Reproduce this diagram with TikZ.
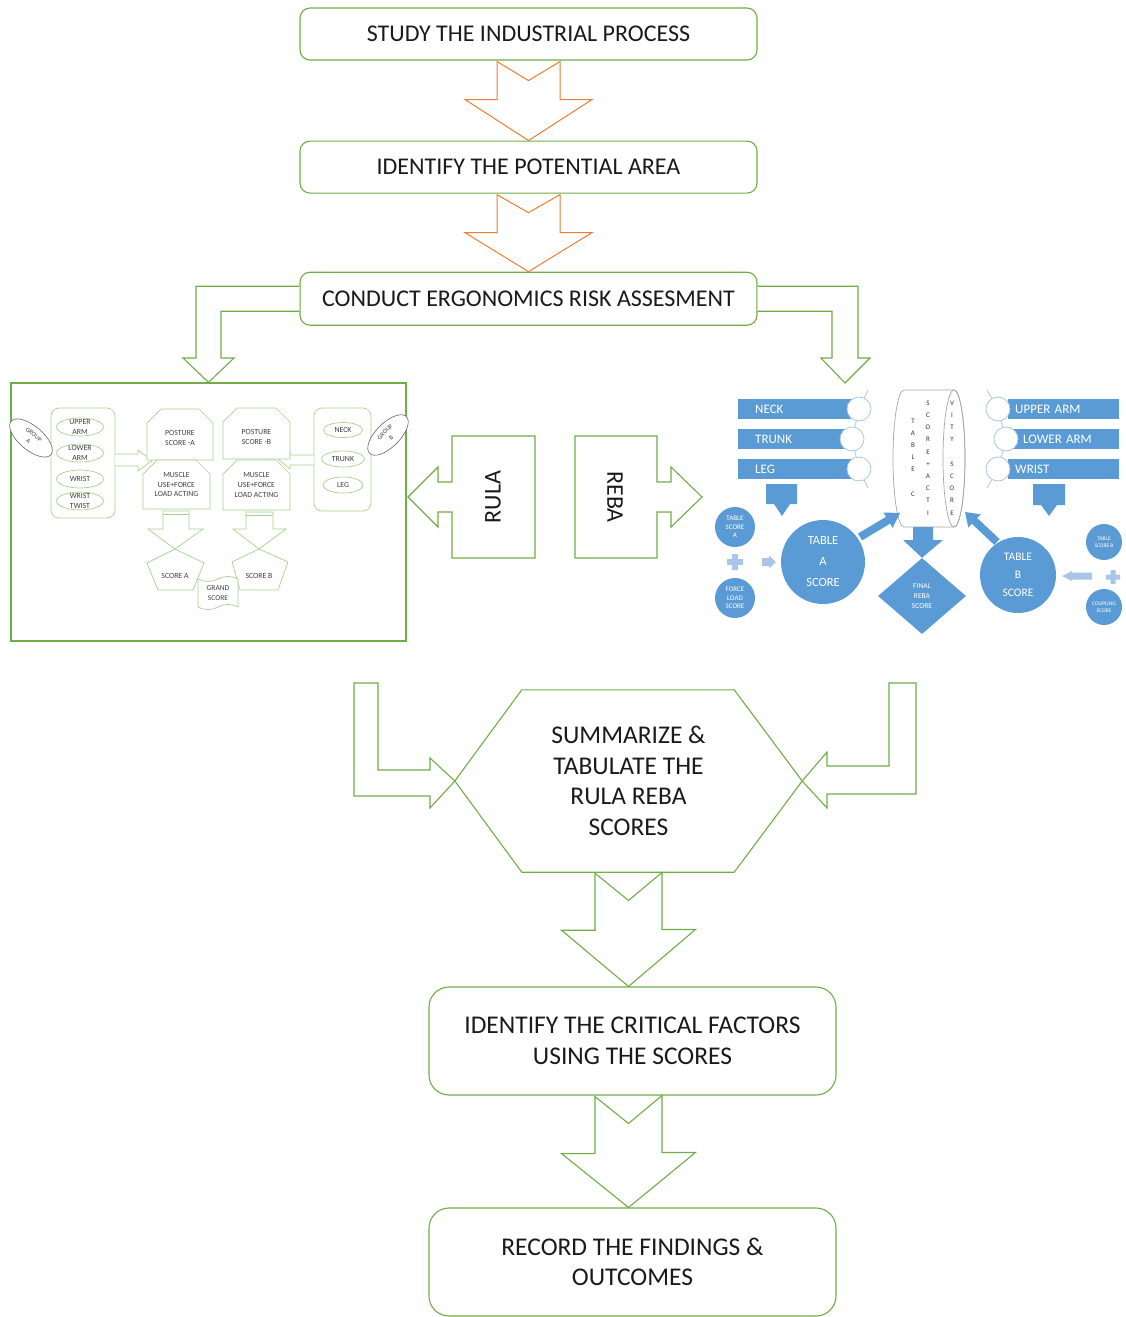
\documentclass[tikz,border=0pt]{standalone}
\usepackage{fontspec}
\setmainfont{Carlito}
\usetikzlibrary{positioning, arrows.meta, calc, shapes.geometric, shapes.misc, shapes.symbols, backgrounds}

\definecolor{stepgreen}{HTML}{70AD47}
\definecolor{palegreen}{HTML}{A9D18E}
\definecolor{floworange}{HTML}{ED7D31}
\definecolor{rebablue}{HTML}{5B9BD5}
\definecolor{lightblue}{HTML}{A9C6E8}
\definecolor{inkgray}{HTML}{1A1A1A}

\begin{document}
\begin{tikzpicture}[
    x=1pt, y=-1pt,
    stepbox/.style={draw=stepgreen, line width=1.1pt, rounded corners=10pt, fill=white, align=center, text=inkgray, font=\fontsize{24}{30}\selectfont},
    bigstep/.style={stepbox, rounded corners=20pt, minimum width=407, minimum height=108, font=\fontsize{25.5}{30.5}\selectfont},
    flowarrow/.style={draw=stepgreen, line width=1.1pt, fill=white, line join=miter},
    orangearrow/.style={flowarrow, draw=floworange, line width=1pt},
    rulaline/.style={draw=palegreen, line width=0.7pt, fill=white},
    rulatxt/.style={font=\fontsize{7.8}{9.7}\selectfont, text=black!75, align=center, inner sep=0pt},
    groupoval/.style={ellipse, draw=black!60, line width=0.6pt, fill=white, minimum width=52, minimum height=24, rulatxt, font=\fontsize{6.3}{8.6}\selectfont},
    partoval/.style={ellipse, rulaline, minimum width=47, minimum height=18, inner sep=0pt},
    snipbox/.style={chamfered rectangle, chamfered rectangle corners={north west, north east}, chamfered rectangle xsep=7pt, chamfered rectangle ysep=7pt, rulaline, rulatxt},
    rebabar/.style={fill=rebablue, text=white, anchor=west, align=left, minimum height=20, inner ysep=0pt, font=\fontsize{13}{15}\selectfont},
    listdot/.style={circle, draw=lightblue, line width=0.8pt, fill=white, minimum size=24, inner sep=0pt},
    scoredot/.style={circle, fill=rebablue, text=white, align=center, inner sep=0pt},
    colletter/.style={align=center, text=black!80, inner sep=0pt, font=\fontsize{7}{12.2}\selectfont}
]
\useasboundingbox (0,0) rectangle (1125,1317);

% main steps
\node[stepbox, minimum width=457, minimum height=52] (study) at (528.5,34) {STUDY THE INDUSTRIAL PROCESS};
\node[stepbox, minimum width=457, minimum height=52, below=80pt of study] (area) {IDENTIFY THE POTENTIAL AREA};
\node[stepbox, minimum width=457, minimum height=53, below=78pt of area] (conduct) {CONDUCT ERGONOMICS RISK ASSESMENT};

\draw[orangearrow] ($(study.south)+(-31.5,1)$) -- ++(0,38) -- ++(-32,0) -- (area.north) -- ++(63.5,-41) -- ++(-32,0) -- ++(0,-38) -- ++(-31.5,19) -- cycle;
\draw[orangearrow] ($(area.south)+(-31.5,1)$) -- ++(0,38) -- ++(-32,0) -- (conduct.north) -- ++(63.5,-39) -- ++(-32,0) -- ++(0,-38) -- ++(-31.5,18) -- cycle;

% RULA panel
\node[draw=stepgreen, line width=1.3pt, minimum width=395, minimum height=258] (rulapanel) at (208.5,512) {};
\coordinate (rebain) at (845,383);

\draw[flowarrow] ($(conduct.west)+(0,-12.5)$) -| (196,358) -- (183,358) -- (rulapanel.north) -- (234,358) -- (221,358) |- ($(conduct.west)+(0,12.5)$);
\draw[flowarrow] ($(conduct.east)+(0,-12.5)$) -| (858,358) -- (870,358) -- (rebain) -- (821,358) -- (832,358) |- ($(conduct.east)+(0,12.5)$);

% group A
\node[draw=palegreen, line width=0.7pt, rounded corners=8pt, minimum width=64, minimum height=110] (groupa) at (83,463) {};
\node[partoval, label={[rulatxt]center:{UPPER\\ARM}}] (ovupper) at (80,427) {};
\node[partoval, label={[rulatxt]center:{LOWER\\ARM}}] (ovlower) at (80,453) {};
\node[partoval, label={[rulatxt]center:{WRIST}}] (ovwrist) at (80,479) {};
\node[partoval, label={[rulatxt]center:{WRIST\\TWIST}}] (ovtwist) at (80,501) {};
\node[groupoval, rotate=-40] (groupaname) at (31,438) {GROUP\\A};

% group B
\node[draw=palegreen, line width=0.7pt, rounded corners=8pt, minimum width=57, minimum height=103] (groupb) at (342.5,459.5) {};
\node[partoval, minimum width=39, minimum height=15, label={[rulatxt]center:{NECK}}] (ovneck) at (343,430) {};
\node[partoval, minimum width=43, minimum height=16, label={[rulatxt]center:{TRUNK}}] (ovtrunk) at (343,459) {};
\node[partoval, minimum width=40, minimum height=16, label={[rulatxt]center:{LEG}}] (ovleg) at (343,485) {};
\node[groupoval, rotate=45] (groupbname) at (388,435) {GROUP\\B};

% small block arrows into the score boxes
\draw[rulaline] (groupa.east |- 0,454) -- (138,454) -- (138,450) -- (152,460.5) -- (138,471) -- (138,466) -- (groupa.east |- 0,466);
\draw[rulaline] (groupb.west |- 0,455) -- (290,455) -- (290,451) -- (279,460) -- (290,469) -- (290,465) -- (groupb.west |- 0,465);

\node[snipbox, minimum width=66, minimum height=51, text height=22pt, text depth=0pt] (posturea) at (180,434.5) {POSTURE\\SCORE -A};
\node[snipbox, minimum width=67, minimum height=49] (musclea) at (176.5,484.5) {MUSCLE\\USE+FORCE\\LOAD ACTING};
\node[snipbox, minimum width=67, minimum height=51, text height=22pt, text depth=0pt] (postureb) at (256.5,433.5) {POSTURE\\SCORE -B};
\node[snipbox, minimum width=67, minimum height=50] (muscleb) at (256.5,485) {MUSCLE\\USE+FORCE\\LOAD ACTING};

\draw[rulaline] (163,511) -- (189,511) -- (189,529) -- (203,529) -- (175,549) -- (148,529) -- (163,529) -- cycle;
\draw[palegreen, line width=0.7pt] (163,514) -- (189,514);
\draw[rulaline] (246,512) -- (273,512) -- (273,529) -- (286,529) -- (259,549) -- (233,529) -- (246,529) -- cycle;
\draw[palegreen, line width=0.7pt] (246,515) -- (273,515);

\draw[rulaline] (175,549) -- (204,563) -- (193,590) -- (158,590) -- (147,563) -- cycle;
\draw[rulaline] (259,549) -- (288,562) -- (278,590) -- (240,590) -- (232,562) -- cycle;
\node[rulatxt] (scorea) at (175,576) {SCORE A};
\node[rulatxt] (scoreb) at (259,576) {SCORE B};
\node[tape, rulaline, rulatxt, font=\fontsize{7.5}{9.7}\selectfont, minimum width=40, minimum height=33, tape bend height=5pt] (grand) at (218,593) {GRAND\\SCORE};

% RULA / REBA callouts
\draw[flowarrow] (535,436) -- (452,436) -- (452,482) -- (438,482) -- (438,467) -- (408,497) -- (438,527) -- (438,512) -- (452,512) -- (452,558) -- (535,558) -- cycle;
\node[rotate=90, text=inkgray, font=\fontsize{24}{30}\selectfont] (rula) at (493,497) {RULA};
\draw[flowarrow] (575,436) -- (657,436) -- (657,482) -- (671,482) -- (671,467) -- (702,497) -- (671,527) -- (671,512) -- (657,512) -- (657,558) -- (575,558) -- cycle;
\node[rotate=-90, text=inkgray, font=\fontsize{24}{30}\selectfont] (reba) at (615,497) {REBA};

% REBA panel
\node[rebabar, text width=81, inner xsep=17] (neckbar) at (738,409) {NECK};
\node[rebabar, text width=73, inner xsep=17] (trunkbar) at (738,439) {TRUNK};
\node[rebabar, text width=81, inner xsep=17] (legbar) at (738,469) {LEG};
\node[listdot] (dotneck) at (859,409) {};
\node[listdot] (dottrunk) at (852,439) {};
\node[listdot] (dotleg) at (859,469) {};

\node[rebabar, text width=97, inner xsep=7] (upperbar) at (1008,409) {UPPER ARM};
\node[rebabar, text width=81, inner xsep=15] (lowerbar) at (1008,439) {LOWER ARM};
\node[rebabar, text width=97, inner xsep=7] (wristbar) at (1008,469) {WRIST};
\node[listdot] (dotupper) at (998,409) {};
\node[listdot] (dotlower) at (1006,439) {};
\node[listdot] (dotwrist) at (998,469) {};

\begin{pgfonlayer}{background}
\draw[lightblue, line width=0.8pt] (868,390) -- (dotneck) -- (dottrunk) -- (dotleg) -- (868,488);
\draw[lightblue, line width=0.8pt] (987,390) -- (dotupper) -- (dotlower) -- (dotwrist) -- (987,488);
\end{pgfonlayer}

\fill[rebablue] (766,484) -- (797,484) -- (797,504) -- (790,504) -- (782,516) -- (774,504) -- (766,504) -- cycle;
\fill[rebablue] (1033,484) -- (1065,484) -- (1065,505) -- (1057,505) -- (1049,516) -- (1041,505) -- (1033,505) -- cycle;

% table C cylinder
\coordinate (tablec) at (929,458.5);
\draw[black!35, line width=0.7pt, fill=white] (954,390) -- (904,390) arc[start angle=270, end angle=90, x radius=11, y radius=68.5] -- (954,527) arc[start angle=90, end angle=-90, x radius=11, y radius=68.5] -- cycle;
\draw[black!35, line width=0.7pt] (954,458.5) ellipse[x radius=11, y radius=68.5];
\node[colletter] (colone) at (913,457.5) {T\\A\\B\\L\\E\\\mbox{}\\C};
\node[colletter] (coltwo) at (928,458) {S\\C\\O\\R\\E\\+\\A\\C\\T\\I};
\node[colletter] (colthree) at (952,458) {V\\I\\T\\Y\\\mbox{}\\S\\C\\O\\R\\E};

\node[scoredot, minimum size=40, font=\fontsize{7}{8.3}\selectfont] (tsa) at (735,527) {TABLE\\SCORE\\A};
\node[scoredot, minimum size=40, font=\fontsize{7}{8.3}\selectfont] (fls) at (735,598) {FORCE\\LOAD\\SCORE};
\node[scoredot, minimum size=84, font=\fontsize{12.5}{21}\selectfont] (tablea) at (823,562) {TABLE\\A\\SCORE};
\node[scoredot, minimum size=76, font=\fontsize{11.5}{18}\selectfont] (tableb) at (1018,575) {TABLE\\B\\SCORE};
\node[scoredot, minimum size=36, font=\fontsize{5.5}{6.5}\selectfont] (tsb) at (1104,542) {TABLE\\SCORE B};
\node[scoredot, minimum size=36, font=\fontsize{5.5}{6.5}\selectfont] (cps) at (1104,607) {COUPLING\\SCORE};
\node[diamond, fill=rebablue, text=white, align=center, inner sep=0pt, minimum width=88, minimum height=76, font=\fontsize{7.5}{10}\selectfont] (final) at (922,596) {FINAL\\REBA\\SCORE};

\fill[rebablue] (913,527) -- (933,527) -- (933,540) -- (943,540) -- (final.north) -- (903,540) -- (913,540) -- cycle;
\fill[rebablue] (862.1,540.4) -- (890.1,523.6) -- (892.6,527.9) -- (900,513) -- (883.4,512.5) -- (885.9,516.8) -- (857.9,533.6) -- cycle;
\fill[rebablue] (999.7,539.1) -- (977.2,518.0) -- (980.7,514.3) -- (965,512) -- (968.3,527.5) -- (971.8,523.8) -- (994.3,544.9) -- cycle;

% plus signs and pale arrows
\fill[lightblue] (727,559.2) rectangle (743,564.8) (732.2,554) rectangle (737.8,570);
\fill[lightblue] (1106,574.5) rectangle (1120,579.5) (1110.5,570) rectangle (1115.5,584);
\fill[lightblue] (762,558) -- (769,558) -- (769,555.5) -- (776,562) -- (769,568.5) -- (769,566) -- (762,566) -- cycle;
\fill[lightblue] (1092,572.5) -- (1072,572.5) -- (1072,571) -- (1062,576) -- (1072,581) -- (1072,579.5) -- (1092,579.5) -- cycle;

% summary and final steps
\node[minimum width=347, minimum height=182, align=center, text=inkgray, font=\fontsize{25.5}{30.5}\selectfont] (summ) at (628.5,781) {SUMMARIZE \&\\TABULATE THE\\RULA REBA\\SCORES};
\draw[stepgreen, line width=1.1pt] (summ.west) -- ($(summ.north west)+(67,0)$) -- ($(summ.north east)+(-68,0)$) -- (summ.east) -- ($(summ.south east)+(-68,0)$) -- ($(summ.south west)+(67,0)$) -- cycle;
\draw[flowarrow] (354,683) -- (378,683) -- (378,770) -- (430,770) -- (430,758) -- (summ.west) -- (430,808) -- (430,796) -- (354,796) -- cycle;
\draw[flowarrow] (916,683) -- (889,683) -- (889,766) -- (827,766) -- (827,752) -- (summ.east) -- (827,808) -- (827,794) -- (916,794) -- cycle;

\node[bigstep] (critical) at (632.5,1041) {IDENTIFY THE CRITICAL FACTORS\\USING THE SCORES};
\node[bigstep] (record) at (632.5,1262) {RECORD THE FINDINGS \&\\OUTCOMES};

\draw[flowarrow] ($(summ.south)+(-33.5,1)$) -- ++(0,57) -- ++(-33.5,0) -- (summ.south |- critical.north) -- ++(67,-57) -- ++(-33.5,0) -- ++(0,-57) -- ++(-33.5,28) -- cycle;
\draw[flowarrow] ($(summ.south |- critical.south)+(-33.5,1)$) -- ++(0,57) -- ++(-33.5,0) -- (summ.south |- record.north) -- ++(67,-55) -- ++(-33.5,0) -- ++(0,-57) -- ++(-33.5,28) -- cycle;

\end{tikzpicture}
\end{document}
